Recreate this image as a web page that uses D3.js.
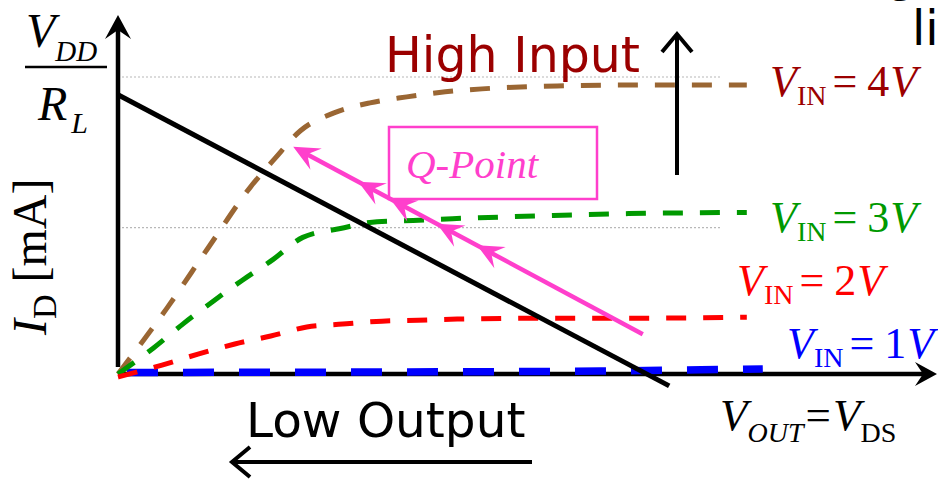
<!DOCTYPE html>
<html>
<head>
<meta charset="utf-8">
<script src="https://cdn.jsdelivr.net/npm/d3@7"></script>
<style>
  html, body { margin: 0; padding: 0; background: #fff; }
  svg { display: block; }
</style>
</head>
<body>
<svg id="chart" width="938" height="479"></svg>
<script>
// Drain characteristics I_D(V_DS) of an NMOS inverter, one curve per gate input.
// Units: V_DS in volts (x), I_D in mA (y, V_DD/R_L = 10).
const vinLevels = [4, 3, 2, 1];
const vinColors = ["#9a6633", "#009900", "#ff0000", "#0000ff"];
const vinTextColors = ["#9b0000", "#009900", "#ff0000", "#0000ff"];

const curveVin4 = [[0, 0], [0.61, 2.21], [1.13, 4.26], [1.66, 6.31], [1.96, 7.25], [2.28, 8.19],
  [2.7, 8.79], [3.15, 9.13], [3.61, 9.33], [4.09, 9.5], [4.55, 9.6], [5.49, 9.7], [6.53, 9.73], [7.86, 9.73]];
const curveVin3 = [[0, 0], [0.44, 0.87], [0.81, 1.68], [1.19, 2.45], [1.55, 3.15], [1.94, 3.86],
  [2.31, 4.6], [2.78, 4.9], [3.24, 5.13], [3.69, 5.17], [4.18, 5.23], [4.63, 5.27], [5.44, 5.34], [6.38, 5.4], [7.86, 5.44]];
const curveVin2 = [[0, -0.1], [0.55, 0.3], [1.0, 0.67], [1.46, 1.01], [1.91, 1.28], [2.36, 1.58],
  [2.81, 1.68], [3.3, 1.78], [3.75, 1.81], [4.24, 1.85], [5.4, 1.88], [6.58, 1.88], [7.86, 1.91]];
const curveVin1 = [[0, 0.05], [3.53, 0.07], [6.03, 0.1], [8.06, 0.17]];

// Load line from V_DD/R_L down past V_DD, and the Q-point trajectory
const loadLine = [[0, 9.4], [6.89, -0.4]];
const qPointPath = [[6.56, 1.34], [2.19, 7.65]];
const qArrowFractions = [1, 0.814, 0.723, 0.589, 0.474];

// Reference current levels (V_DD/R_L and half of it)
const gridLevels = [10, 4.93];
const gridEnd = 7.55;

const svg = d3.select("#chart");
const x = d3.scaleLinear().domain([0, 10]).range([118, 918]);
const y = d3.scaleLinear().domain([0, 10]).range([374, 77]);

const serif = "'Liberation Serif', 'Times New Roman', serif";
const sans = "'DejaVu Sans', Verdana, sans-serif";

// dotted reference levels
svg.append("g").selectAll("line").data(gridLevels).join("line")
  .attr("x1", x(0)).attr("x2", x(gridEnd))
  .attr("y1", d => y(d)).attr("y2", d => y(d))
  .attr("stroke", "#b8b8b8").attr("stroke-width", 1.2)
  .attr("stroke-dasharray", "2,2");

// axes with stealth arrowheads
function stealth(tipX, tipY, angleDeg, len, half, notch, color) {
  svg.append("path")
    .attr("d", `M0,0 L${-len},${-half} L${-len + notch},0 L${-len},${half} Z`)
    .attr("transform", `translate(${tipX},${tipY}) rotate(${angleDeg})`)
    .attr("fill", color);
}
svg.append("line").attr("x1", x(0)).attr("x2", 925).attr("y1", y(0)).attr("y2", y(0))
  .attr("stroke", "#000").attr("stroke-width", 4.5);
stealth(937, y(0), 0, 22, 12, 8, "#000");
svg.append("line").attr("x1", x(0)).attr("x2", x(0)).attr("y1", 367).attr("y2", 28)
  .attr("stroke", "#000").attr("stroke-width", 4.5);
stealth(x(0), 15, -90, 24, 13, 9, "#000");

// characteristic curves
const line = d3.line().x(d => x(d[0])).y(d => y(d[1])).curve(d3.curveMonotoneX);
const curves = [curveVin1, curveVin4, curveVin3, curveVin2];
const curveStyles = [
  { color: vinColors[3], width: 7.5, dash: "31,25", offset: 47 },
  { color: vinColors[0], width: 5, dash: "20,17", offset: 0 },
  { color: vinColors[1], width: 5, dash: "20,17", offset: 0 },
  { color: vinColors[2], width: 5, dash: "20,17", offset: 0 }
];
curves.forEach((c, i) => {
  svg.append("path").datum(c).attr("d", line)
    .attr("fill", "none")
    .attr("stroke", curveStyles[i].color)
    .attr("stroke-width", curveStyles[i].width)
    .attr("stroke-dasharray", curveStyles[i].dash)
    .attr("stroke-dashoffset", curveStyles[i].offset);
});

// load line
svg.append("path").datum(loadLine).attr("d", d3.line().x(d => x(d[0])).y(d => y(d[1])))
  .attr("stroke", "#000").attr("stroke-width", 5).attr("fill", "none");

// Q-point trajectory with arrowheads
const pink = "#ff3fcc";
const q0 = [x(qPointPath[0][0]), y(qPointPath[0][1])];
const q1 = [x(qPointPath[1][0]), y(qPointPath[1][1])];
svg.append("line").attr("x1", q0[0]).attr("y1", q0[1]).attr("x2", q1[0] + 10).attr("y2", q1[1] + 5.4)
  .attr("stroke", pink).attr("stroke-width", 4.5);
const qAngle = Math.atan2(q1[1] - q0[1], q1[0] - q0[0]) * 180 / Math.PI;
qArrowFractions.forEach(f => {
  const px = q0[0] + (q1[0] - q0[0]) * f;
  const py = q0[1] + (q1[1] - q0[1]) * f;
  stealth(px, py, qAngle, 26, 12, 10, pink);
});

// Q-Point box
svg.append("rect").attr("x", 389).attr("y", 127).attr("width", 208).attr("height", 72)
  .attr("fill", "none").attr("stroke", pink).attr("stroke-width", 2.5);
svg.append("text").attr("x", 406).attr("y", 178)
  .attr("font-family", serif).attr("font-style", "italic").attr("font-size", 41)
  .attr("fill", pink).text("Q-Point");

// rich text helper: parts = {t, size, italic, dy, dx}
function rich(px, py, parts, color, extra) {
  const t = svg.append("text").attr("x", px).attr("y", py)
    .attr("font-family", serif).attr("fill", color);
  if (extra) extra(t);
  parts.forEach(p => {
    const s = t.append("tspan").attr("font-size", p.size).text(p.t);
    if (p.italic) s.attr("font-style", "italic");
    if (p.dy) s.attr("dy", p.dy);
    if (p.dx) s.attr("dx", p.dx);
  });
  return t;
}

// V_IN labels
const vinLabelPos = [[770, 96], [770, 232], [737, 295], [787, 358]];
vinLevels.forEach((v, i) => {
  rich(vinLabelPos[i][0], vinLabelPos[i][1], [
    { t: "V", size: 44, italic: true },
    { t: "IN", size: 28, dy: 9 },
    { t: "=", size: 44, dy: -9, dx: 6 },
    { t: String(v), size: 44, dx: 10 },
    { t: "V", size: 44, italic: true, dx: 1 }
  ], vinTextColors[i]);
});

// x-axis title
rich(720, 430, [
  { t: "V", size: 45, italic: true },
  { t: "OUT", size: 28, italic: true, dy: 12 },
  { t: "=", size: 45, dy: -12, dx: 2 },
  { t: "V", size: 45, italic: true, dx: 2 },
  { t: "DS", size: 28, dy: 12 }
], "#000");

// V_DD / R_L marker on the current axis
rich(26, 47, [
  { t: "V", size: 48, italic: true },
  { t: "DD", size: 29, italic: true, dy: 14 }
], "#000");
svg.append("line").attr("x1", 25).attr("x2", 107).attr("y1", 67).attr("y2", 67)
  .attr("stroke", "#000").attr("stroke-width", 2.5);
rich(38, 120, [
  { t: "R", size: 48, italic: true },
  { t: "L", size: 30, italic: true, dy: 13, dx: 4 }
], "#000");

// y-axis title
rich(0, 0, [
  { t: "I", size: 48, italic: true },
  { t: "D", size: 34, dy: 10 },
  { t: " [mA]", size: 48, dy: -10 }
], "#000", t => t.attr("transform", "translate(46,335) rotate(-90)"));

// "High Input" with upward arrow
svg.append("text").attr("x", 385).attr("y", 72)
  .attr("font-family", sans).attr("font-size", 49).attr("fill", "#9b0000").text("High Input");
svg.append("line").attr("x1", 677).attr("x2", 677).attr("y1", 175).attr("y2", 34)
  .attr("stroke", "#000").attr("stroke-width", 4);
svg.append("path").attr("d", "M662,52 L677,34 L692,52")
  .attr("fill", "none").attr("stroke", "#000").attr("stroke-width", 4);

// "Low Output" with leftward arrow
svg.append("text").attr("x", 246).attr("y", 437)
  .attr("font-family", sans).attr("font-size", 48.5).attr("fill", "#000").text("Low Output");
svg.append("line").attr("x1", 532).attr("x2", 232).attr("y1", 462).attr("y2", 462)
  .attr("stroke", "#000").attr("stroke-width", 4);
svg.append("path").attr("d", "M250,447 L232,462 L250,477")
  .attr("fill", "none").attr("stroke", "#000").attr("stroke-width", 4);

// neighbouring slide text running off the top-right corner
svg.append("text").attr("x", 912).attr("y", 45)
  .attr("font-family", sans).attr("font-size", 48).attr("fill", "#000").text("li");
svg.append("text").attr("x", 797).attr("y", -7)
  .attr("font-family", sans).attr("font-size", 48).attr("fill", "#000").text(")");
svg.append("text").attr("x", 886).attr("y", -9)
  .attr("font-family", sans).attr("font-size", 48).attr("fill", "#000").text("g");
</script>
</body>
</html>
